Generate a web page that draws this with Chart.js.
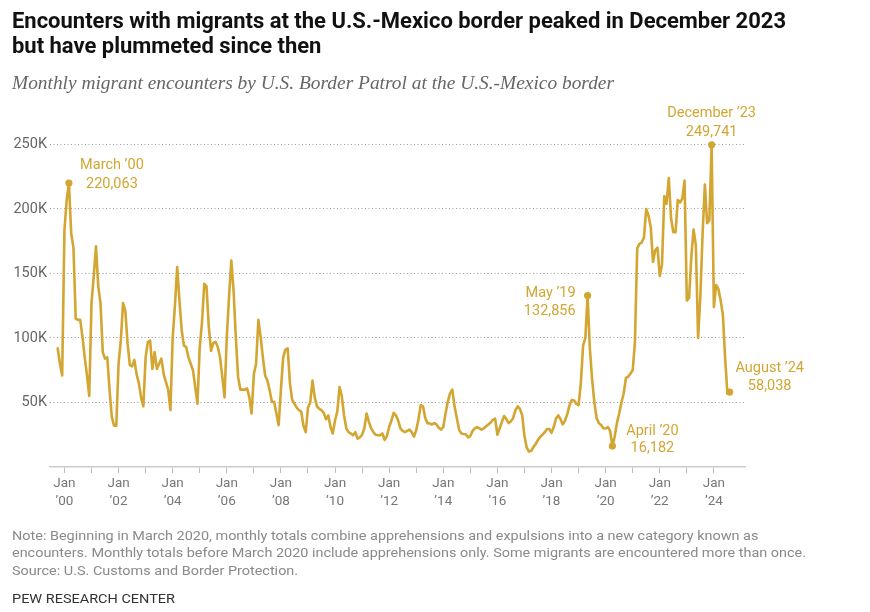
<!DOCTYPE html>
<html>
<head>
<meta charset="utf-8">
<script src="https://cdn.jsdelivr.net/npm/chart.js@4.4.1/dist/chart.umd.min.js"></script>
<style>
html,body{margin:0;padding:0;background:#fff;}
#wrap{position:relative;width:870px;height:612px;overflow:hidden;background:#fff;}
#c{position:absolute;left:0;top:0;}
.t{position:absolute;left:12px;white-space:nowrap;transform-origin:0 0;}
.title{font-family:Roboto,sans-serif;font-weight:700;font-size:22px;line-height:24px;color:#111;}
.sub{font-family:"Liberation Serif",serif;font-style:italic;font-size:19px;line-height:22px;color:#666;}
.note{font-family:Roboto,sans-serif;font-size:13.5px;line-height:16px;color:#8a8a8a;}
.pew{font-family:Roboto,sans-serif;font-size:13.5px;line-height:16px;color:#333;}
</style>
</head>
<body>
<div id="wrap">
<canvas id="c" width="870" height="612"></canvas>
<div class="t title" id="title1" style="top:9px">Encounters with migrants at the U.S.-Mexico border peaked in December 2023</div>
<div class="t title" id="title2" style="top:34px">but have plummeted since then</div>
<div class="t sub" id="sub" style="top:72px">Monthly migrant encounters by U.S. Border Patrol at the U.S.-Mexico border</div>
<div class="t note" id="note1" style="top:527px">Note: Beginning in March 2020, monthly totals combine apprehensions and expulsions into a new category known as</div>
<div class="t note" id="note2" style="top:544px">encounters. Monthly totals before March 2020 include apprehensions only. Some migrants are encountered more than once.</div>
<div class="t note" id="note3" style="top:562px">Source: U.S. Customs and Border Protection.</div>
<div class="t pew" id="pew" style="top:590px">PEW RESEARCH CENTER</div>
</div>
<script>
// ---- Data: monthly migrant encounters (thousands), U.S. Border Patrol, U.S.-Mexico border ----
const v1999 = [92, 80, 71]; // Oct–Dec 1999
const v2000 = [183, 207, 220.063, 181, 170, 115, 114, 114, 101, 85, 71, 55];
const v2001 = [127, 148, 171, 140, 127, 89, 84, 85, 60, 39, 32, 32];
const v2002 = [80, 98, 127, 121, 96, 79, 78, 83, 72, 65, 54, 47];
const v2003 = [85, 97, 98, 76, 89, 76, 80, 84, 72, 66, 60, 44];
const v2004 = [100, 125, 155, 129, 106, 94, 93, 85, 80, 75, 62, 49];
const v2005 = [93, 112, 142, 140, 109, 90, 96, 97, 93, 85, 70, 54];
const v2006 = [101, 132, 160, 137, 101, 70, 60, 60, 60, 61, 54, 41.5];
const v2007 = [72, 80, 114, 101, 85, 71, 67, 59.5, 50.5, 50.5, 41.5, 32.4];
const v2008 = [60, 85, 91, 92, 65, 52, 49, 46, 44, 43, 32, 27];
const v2009 = [46, 50, 67, 54, 47, 45, 44, 42, 37, 40, 31, 26];
const v2010 = [36, 43, 62, 55, 40, 30, 27, 26, 24.6, 27, 22, 23];
const v2011 = [25, 30, 41.5, 35, 30, 27, 25, 24.6, 24.6, 26, 21, 24];
const v2012 = [31, 36, 42, 40, 36, 30, 28, 27, 28, 29, 27, 23.5];
const v2013 = [28.5, 37, 48, 47, 38, 34, 33.7, 33, 34, 33, 30.5, 29];
const v2014 = [31, 41.5, 50.5, 57, 60, 47, 38, 29, 26, 25.6, 25.3, 23];
const v2015 = [24, 28, 30, 31, 30, 29, 30, 31.5, 33, 34.5, 36.5, 37.5];
const v2016 = [25, 30, 35, 39.5, 37, 34, 35.5, 38, 44, 47, 45, 40];
const v2017 = [24, 15, 12, 12.5, 15.5, 18, 21, 23.5, 25, 27, 29.5, 29.5];
const v2018 = [26.5, 31, 37.6, 40, 37, 33, 36, 41, 48, 52, 51.5, 49];
const v2019 = [48, 65, 94, 100, 132.856, 92, 68, 50, 38, 34, 32.5, 30];
const v2020 = [29.8, 31, 28, 16.182, 23.5, 34, 41.5, 50, 57, 69, 70, 72.5];
const v2021 = [75, 97, 169.5, 173, 174, 178, 200, 195, 186, 159, 168, 170];
const v2022 = [148, 157, 210, 204, 224, 193, 182, 182, 207, 205, 208, 222];
const v2023 = [129, 131, 163, 184, 172, 100, 132, 181, 219, 189, 191, 249.741];
const v2024 = [124, 141, 138, 129, 118, 84, 57, 58.038]; // Jan–Aug 2024

const seriesYears = [1999,2000,2001,2002,2003,2004,2005,2006,2007,2008,2009,2010,2011,2012,2013,2014,2015,2016,2017,2018,2019,2020,2021,2022,2023,2024];
const seriesValues = [v1999,v2000,v2001,v2002,v2003,v2004,v2005,v2006,v2007,v2008,v2009,v2010,v2011,v2012,v2013,v2014,v2015,v2016,v2017,v2018,v2019,v2020,v2021,v2022,v2023,v2024];
const firstMonthOfSeries = 10; // series begins in October 1999

// Tick labels
const xTickYears = [2000,2001,2002,2003,2004,2005,2006,2007,2008,2009,2010,2011,2012,2013,2014,2015,2016,2017,2018,2019,2020,2021,2022,2023,2024];
const xTickLabelsTop = ['Jan','','Jan','','Jan','','Jan','','Jan','','Jan','','Jan','','Jan','','Jan','','Jan','','Jan','','Jan','','Jan'];
const xTickLabelsBottom = ['\u201900','','\u201902','','\u201904','','\u201906','','\u201908','','\u201910','','\u201912','','\u201914','','\u201916','','\u201918','','\u201920','','\u201922','','\u201924'];
const yTickValues = [50, 100, 150, 200, 250];
const yTickLabels = ['50K','100K','150K','200K','250K'];

// Callouts
const calloutNames  = ['March \u201900', 'May \u201919', 'April \u201920', 'December \u201923', 'August \u201924'];
const calloutYears  = [2000, 2019, 2020, 2023, 2024];
const calloutMonths = [3, 5, 4, 12, 8];
const calloutTexts  = ['220,063', '132,856', '16,182', '249,741', '58,038'];

// ---- styling / layout (kept separate from data) ----
const GOLD = '#d3a632';
const calloutLayout = [
  {align:'center', dx: 43, dy1: -18, dy2: 1},
  {align:'right',  dx: -12, dy1: -2, dy2: 16},
  {align:'center', dx: 40, dy1: -15, dy2: 2},
  {align:'center', dx: 0,  dy1: -31, dy2: -12},
  {align:'center', dx: 40, dy1: -24, dy2: -6}
];

// build points (x = months since Jan 2000)
const monthIndex = (yr, mo) => (yr - 2000) * 12 + (mo - 1);
const points = [];
seriesYears.forEach((yr, i) => {
  const start = (i === 0) ? firstMonthOfSeries : 1;
  seriesValues[i].forEach((v, j) => points.push({x: monthIndex(yr, start + j), y: v}));
});
const tickPositions = xTickYears.map(yr => monthIndex(yr, 1));

// text fitting
function natW(id){ return document.getElementById(id).getBoundingClientRect().width; }
function setScale(id, s){ document.getElementById(id).style.transform = 'scaleX(' + s + ')'; }
const sT = 774 / natW('title1'); setScale('title1', sT); setScale('title2', sT);
setScale('sub', 602 / natW('sub'));
const sN = 794 / natW('note2'); ['note1','note2','note3'].forEach(id => setScale(id, sN));
setScale('pew', 163 / natW('pew'));

const calloutPlugin = {
  id: 'callouts',
  afterDatasetsDraw(chart) {
    const ctx = chart.ctx, xs = chart.scales.x, ys = chart.scales.y;
    ctx.save();
    calloutNames.forEach((name, i) => {
      const mi = monthIndex(calloutYears[i], calloutMonths[i]);
      const pt = points.find(p => p.x === mi);
      const px = xs.getPixelForValue(pt.x), py = ys.getPixelForValue(pt.y);
      ctx.fillStyle = GOLD;
      ctx.beginPath(); ctx.arc(px, py, 3.6, 0, Math.PI * 2); ctx.fill();
      const L = calloutLayout[i];
      ctx.font = '14.5px Roboto, sans-serif';
      ctx.textAlign = L.align; ctx.textBaseline = 'middle';
      ctx.fillText(name, px + L.dx, py + L.dy1);
      ctx.fillText(calloutTexts[i], px + L.dx, py + L.dy2);
    });
    ctx.restore();
  }
};

new Chart(document.getElementById('c'), {
  type: 'line',
  data: { datasets: [{
    data: points, borderColor: GOLD, borderWidth: 2.6, pointRadius: 0,
    tension: 0, clip: false, borderJoinStyle: 'round', borderCapStyle: 'round', fill: false
  }]},
  options: {
    responsive: false, animation: false, events: [],
    layout: { padding: { left: 0, top: 138, right: 125, bottom: 106 } },
    plugins: { legend: { display: false }, tooltip: { enabled: false }, title: {display:false} },
    scales: {
      x: {
        type: 'linear', min: -6.4, max: 301.8,
        afterBuildTicks: s => { s.ticks = tickPositions.map(v => ({ value: v })); },
        afterFit: s => { s.height = 39; },
        grid: { display: true, drawOnChartArea: false, drawTicks: true, tickLength: 6, color: '#bdbdbd', lineWidth: 1 },
        border: { display: true, color: '#cccccc', width: 1.5 },
        ticks: {
          autoSkip: false, maxRotation: 0, minRotation: 0, padding: 2, color: '#777',
          font: { family: 'Roboto, sans-serif', size: 13.5, lineHeight: 1.33 },
          callback: (v) => {
            const i = tickPositions.indexOf(v);
            if (i < 0 || xTickLabelsTop[i] === '') return '';
            return [xTickLabelsTop[i], xTickLabelsBottom[i]];
          }
        }
      },
      y: {
        min: 0, max: 255,
        afterBuildTicks: s => { s.ticks = yTickValues.map(v => ({ value: v })); },
        afterFit: s => { s.width = 50; },
        grid: { color: '#9a9a9a', lineWidth: 1, drawTicks: false },
        border: { display: false, dash: [1, 2.5] },
        ticks: {
          padding: 3, color: '#666',
          font: { family: 'Roboto, sans-serif', size: 14.5 },
          callback: (v) => { const i = yTickValues.indexOf(v); return i < 0 ? '' : yTickLabels[i]; }
        }
      }
    }
  },
  plugins: [calloutPlugin]
});
</script>
</body>
</html>
